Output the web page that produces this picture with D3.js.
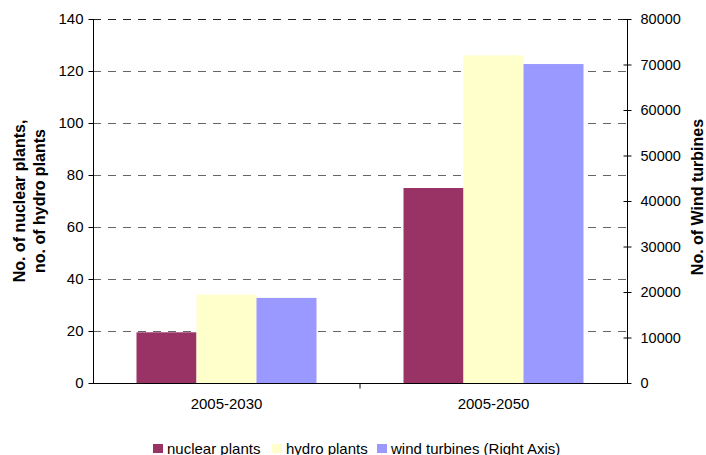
<!DOCTYPE html>
<html>
<head>
<meta charset="UTF-8">
<script src="https://d3js.org/d3.v7.min.js"></script>
<style>
  body { margin: 0; background: #fff; }
  text { font-family: "Liberation Sans", Arial, sans-serif; }
</style>
</head>
<body>
<svg id="chart" width="706" height="455"></svg>
<script>
// data
const periods = ['2005-2030', '2005-2050']
const nuclear = [19.5, 75]
const hydro = [34, 126]
const wind = [18700, 70100]
const leftTicks = [0, 20, 40, 60, 80, 100, 120, 140]
const rightTicks = [0, 10000, 20000, 30000, 40000, 50000, 60000, 70000, 80000]

const svg = d3.select('#chart')
const m = { left: 93, right: 627, top: 19, bottom: 383 }
const font = 'Liberation Sans, Arial, sans-serif'

const x = d3.scaleBand().domain(periods).range([m.left, m.right])
const series = [
  { name: 'nuclear plants', vals: nuclear, color: '#993366', axis: 'left' },
  { name: 'hydro plants', vals: hydro, color: '#FFFFCC', axis: 'left' },
  { name: 'wind turbines (Right Axis)', vals: wind, color: '#9999FF', axis: 'right' }
]
const inner = d3.scaleBand().domain(series.map(s => s.name)).range([0, 180])
const yL = d3.scaleLinear().domain([0, 140]).range([m.bottom, m.top])
const yR = d3.scaleLinear().domain([0, 80000]).range([m.bottom, m.top])

// grid
svg.append('g').selectAll('line').data(leftTicks.slice(1)).enter().append('line')
  .attr('x1', m.left).attr('x2', m.right)
  .attr('y1', d => yL(d) + 0.5).attr('y2', d => yL(d) + 0.5)
  .attr('stroke', d => d === 140 ? '#222' : '#666')
  .attr('stroke-dasharray', '8,7')

// bars
series.forEach(s => {
  const y = s.axis === 'left' ? yL : yR
  svg.append('g').selectAll('rect').data(periods).enter().append('rect')
    .attr('x', d => x(d) + (x.bandwidth() - 180) / 2 + inner(s.name))
    .attr('width', inner.bandwidth())
    .attr('y', (d, i) => y(s.vals[i]))
    .attr('height', (d, i) => m.bottom - y(s.vals[i]))
    .attr('fill', s.color)
})

// axes
const gl = svg.append('g').attr('transform', `translate(${m.left + 0.5},0)`)
  .call(d3.axisLeft(yL).tickValues(leftTicks).tickSize(5).tickPadding(5))
gl.select('.domain').attr('d', `M0,${m.top}V${m.bottom}`)
gl.selectAll('text').attr('font-size', 15).attr('fill', '#000').attr('font-family', font)

const gr = svg.append('g').attr('transform', `translate(${m.right + 0.5},0)`)
  .call(d3.axisRight(yR).tickValues(rightTicks).tickFormat(d3.format('d')).tickSize(4).tickPadding(9))
gr.select('.domain').attr('d', `M0,${m.top}V${m.bottom}`)
gr.selectAll('.tick line').attr('x1', -4)
gr.selectAll('text').attr('font-size', 14.5).attr('fill', '#000').attr('font-family', font)

const gb = svg.append('g').attr('transform', `translate(0,${m.bottom + 0.5})`)
  .call(d3.axisBottom(x).tickSize(0).tickPadding(15))
gb.select('.domain').attr('d', `M${m.left},0H${m.right}`)
gb.selectAll('text').attr('font-size', 15).attr('fill', '#000').attr('font-family', font)
gb.append('line').attr('x1', x(periods[1])).attr('x2', x(periods[1]))
  .attr('y1', 0).attr('y2', 5).attr('stroke', '#000')

// axis titles
const lt = svg.append('text').attr('transform', 'translate(25,201) rotate(-90)')
  .attr('text-anchor', 'middle').attr('font-size', 16).attr('font-weight', 'bold')
lt.append('tspan').attr('x', 0).attr('dy', 0).text('No. of nuclear plants,')
lt.append('tspan').attr('x', 0).attr('dy', 19.5).text('no. of hydro plants')

svg.append('text').attr('transform', 'translate(703,197) rotate(-90)')
  .attr('text-anchor', 'middle').attr('font-size', 16).attr('font-weight', 'bold')
  .text('No. of Wind turbines')

// legend
const legX = [153, 272, 377]
const leg = svg.append('g').selectAll('g').data(series).enter().append('g')
  .attr('transform', (d, i) => `translate(${legX[i]},444)`)
leg.append('rect').attr('width', 10).attr('height', 9).attr('fill', d => d.color)
leg.append('text').attr('x', 14).attr('y', 9.5).attr('font-size', 15).text(d => d.name)
</script>
</body>
</html>
